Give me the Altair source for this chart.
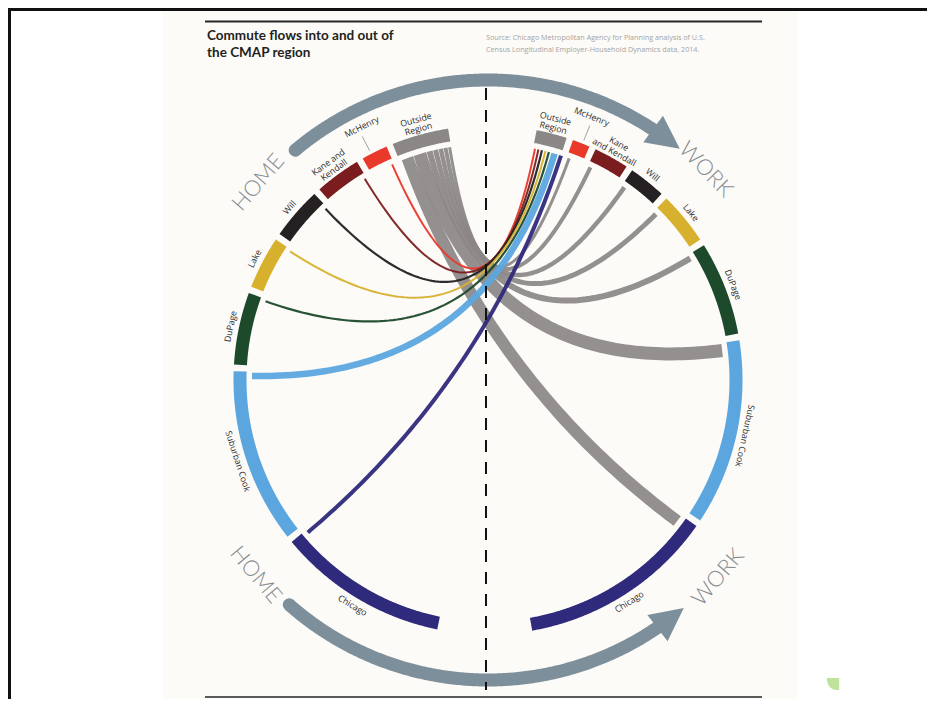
import math
import altair as alt
import pandas as pd

# ---------------- data ----------------
segments = ["Outside Region", "McHenry", "Kane and Kendall", "Will", "Lake",
            "DuPage", "Suburban Cook", "Chicago"]
home_labels = ["Outside\nRegion", "McHenry", "Kane and\nKendall", "Will", "Lake",
               "DuPage", "Suburban Cook", "Chicago"]
work_labels = ["Outside\nRegion", "McHenry", "Kane\nand Kendall", "Will", "Lake",
               "DuPage", "Suburban Cook", "Chicago"]
colors = ["#8c8787", "#e8392b", "#7b1d1f", "#252122", "#d7b12e",
          "#1d4a2b", "#5ba6de", "#2f2a7c"]
# arc length of each segment (degrees) – HOME side (left) and WORK side (right)
home_span = [13.0, 6.0, 10.5, 12.0, 12.0, 16.5, 40.0, 39.0]
work_span = [7.0, 4.0, 8.0, 8.5, 12.0, 21.5, 42.5, 45.0]
# commute flows (ribbon widths, relative units)
# county of residence -> work in Outside Region  (McHenry ... Chicago)
to_outside = [2.0, 2.0, 2.2, 2.0, 2.2, 6.5, 4.0]
# residence in Outside Region -> work in county  (McHenry ... Chicago)
from_outside = [3.0, 4.0, 4.5, 5.0, 6.0, 13.0, 12.0]
leader_labels = ["McHenry"]

big_text = ["HOME", "WORK", "HOME", "WORK"]
title_lines = ["Commute flows into and out of", "the CMAP region"]
source_lines = ["Source: Chicago Metropolitan Agency for Planning analysis of U.S.",
                "Census Longitudinal Employer-Household Dynamics data, 2014."]

# ---------------- layout ----------------
W, H = 919, 691
CX, CY = 488.0, 380.0
R_BAR, BAR_W = 248.0, 13
R_RIB = 236.0
R_LAB = 263.0
R_ARROW = 300.0
GAP = 1.5
HOME_START, WORK_START = -9.0, 11.0
PX = 1.0  # pixels per flow unit
GRAY = "#8c8787"
ARROW_COL = "#7d8f9a"


def pt(phi, r):
    a = math.radians(phi)
    return CX + r * math.sin(a), CY - r * math.cos(a)


def deg(px, r=R_RIB):
    return math.degrees(px / r)


home_rng, a = [], HOME_START
for s in home_span:
    home_rng.append((a, a - s))
    a = a - s - GAP
work_rng, a = [], WORK_START
for s in work_span:
    work_rng.append((a, a + s))
    a = a + s + GAP

# bars
bar_rows = []
for side, rngs in (("home", home_rng), ("work", work_rng)):
    for i, (a0, a1) in enumerate(rngs):
        n = max(10, int(abs(a1 - a0) * 4))
        for k in range(n + 1):
            x, y = pt(a0 + (a1 - a0) * k / n, R_BAR)
            bar_rows.append(dict(id=f"{side}{i}", x=x, y=y, t=k, color=colors[i]))
bars = pd.DataFrame(bar_rows)

# flows (quadratic curves through the circle centre)
flow_rows = []


def add_flow(fid, phi0, phi1, w, color, grp):
    x0, y0 = pt(phi0, R_RIB)
    x2, y2 = pt(phi1, R_RIB)
    n = 80
    for k in range(n + 1):
        t = k / n
        x = (1 - t) ** 2 * x0 + 2 * t * (1 - t) * CX + t * t * x2
        y = (1 - t) ** 2 * y0 + 2 * t * (1 - t) * CY + t * t * y2
        flow_rows.append(dict(id=fid, x=x, y=y, t=k, w=w * PX, color=color, grp=grp))


cur = home_rng[0][0]
for j, v in enumerate(from_outside, start=1):
    w = v * PX
    phi0 = cur - deg(w / 2)
    cur -= deg(w + 0.6)
    phi1 = work_rng[j][0] + deg(w / 2) + deg(1)
    add_flow(f"out{j}", phi0, phi1, v, GRAY, "gray")
cur = work_rng[0][0] + deg(1)
for i, v in enumerate(to_outside, start=1):
    w = v * PX
    phi1 = cur + deg(w / 2)
    cur += deg(w + 1.5)
    phi0 = home_rng[i][0] - deg(w / 2) - deg(1)
    add_flow(f"in{i}", phi0, phi1, v, colors[i], "color")
flows = pd.DataFrame(flow_rows)

# labels
lab_rows, lead_rows = [], []
for side, rngs, labs in (("home", home_rng, home_labels), ("work", work_rng, work_labels)):
    for i, (a0, a1) in enumerate(rngs):
        phi = (a0 + a1) / 2
        txt = labs[i]
        r = R_LAB + (7 if "\n" in txt else 0)
        if segments[i] in leader_labels:
            r = R_LAB + 20
            for k, rr in enumerate((R_BAR + 10, R_BAR + 26)):
                x, y = pt(phi - (0.8 if side == "home" else -0.3), rr)
                lead_rows.append(dict(id=f"{side}{i}", x=x, y=y, t=k))
        flip = (side == "home" and phi < -90) or (side == "work" and phi > 130)
        rot = (phi + 180 if flip else phi) % 360
        x, y = pt(phi, r)
        lab_rows.append(dict(x=x, y=y, label=txt, rot=rot))
labels = pd.DataFrame(lab_rows)
leaders = pd.DataFrame(lead_rows)

big_phi = [-49.3, 46.0, -130.0, 130.6]
big_rows = []
for txt, phi in zip(big_text, big_phi):
    x, y = pt(phi, R_ARROW + 3)
    rot = (phi if abs(phi) < 90 else phi + 180) % 360
    big_rows.append(dict(x=x, y=y, label=txt, rot=rot))
bigs = pd.DataFrame(big_rows)

# arrows
arrow_rows, head_rows = [], []
for aid, (a0, a1, hphi, dirn) in enumerate(((-40.0, 35.0, 36.5, 1), (221.5, 144.0, 142.5, -1))):
    n = 200
    for k in range(n + 1):
        x, y = pt(a0 + (a1 - a0) * k / n, R_ARROW)
        arrow_rows.append(dict(id=aid, x=x, y=y, t=k))
    x, y = pt(hphi, R_ARROW)
    head_rows.append(dict(x=x, y=y, rot=(hphi if dirn > 0 else hphi + 180) % 360))
arrows = pd.DataFrame(arrow_rows)
heads = pd.DataFrame(head_rows)

# ---------------- chart ----------------
xs = alt.Scale(domain=[8, 8 + W], nice=False, zero=False)
ys = alt.Scale(domain=[8, 8 + H], nice=False, zero=False, reverse=True)
X = alt.X("x:Q", scale=xs, axis=None)
Y = alt.Y("y:Q", scale=ys, axis=None)

bg = alt.Chart(pd.DataFrame([dict(x=163, x2=798, y=8, y2=8 + H)])).mark_rect(
    color="#fdfbf8").encode(X, alt.X2("x2:Q"), Y, alt.Y2("y2:Q"))

frame = alt.Chart(pd.DataFrame([
    dict(x=8, x2=8 + W, y=9.5, y2=9.5),
    dict(x=9.5, x2=9.5, y=8, y2=8 + H),
])).mark_rule(color="#111", strokeWidth=3).encode(X, alt.X2("x2:Q"), Y, alt.Y2("y2:Q"))

rules = alt.Chart(pd.DataFrame([
    dict(x=205, x2=762, y=21.5, y2=21.5, w=2.2),
    dict(x=205, x2=762, y=697, y2=697, w=1.6),
])).mark_rule(color="#262626").encode(X, alt.X2("x2:Q"), Y, alt.Y2("y2:Q"),
                                      strokeWidth=alt.StrokeWidth("w:Q", scale=None))

title = alt.Chart(pd.DataFrame([dict(x=207, y=36, label=title_lines[0]),
                                dict(x=207, y=53, label=title_lines[1])])).mark_text(
    align="left", baseline="middle", font="Lato", fontWeight="bold", fontSize=13.5,
    color="#231f20").encode(X, Y, text="label:N")

source = alt.Chart(pd.DataFrame([dict(x=486, y=38, label=source_lines[0]),
                                 dict(x=486, y=50, label=source_lines[1])])).mark_text(
    align="left", baseline="middle", font="Open Sans", fontSize=7.2,
    color="#a3a3a3").encode(X, Y, text="label:N")

arrow_lines = alt.Chart(arrows).mark_line(
    color=ARROW_COL, strokeWidth=13, strokeCap="round").encode(
    X, Y, detail="id:N", order="t:Q")
arrow_heads = alt.Chart(heads).mark_point(
    shape="M -1 -1 L 1 0 L -1 1 Z", size=1100, filled=True, opacity=1,
    color=ARROW_COL, strokeWidth=0).encode(X, Y, angle=alt.Angle("rot:Q", scale=None))

bar_layer = alt.Chart(bars).mark_line(strokeWidth=BAR_W, strokeCap="butt").encode(
    X, Y, detail="id:N", order="t:Q", color=alt.Color("color:N", scale=None))

gray_flows = alt.Chart(flows[flows.grp == "gray"]).mark_line(
    strokeCap="butt", opacity=0.92).encode(
    X, Y, detail="id:N", order="t:Q", color=alt.Color("color:N", scale=None),
    strokeWidth=alt.StrokeWidth("w:Q", scale=None))
color_flows = alt.Chart(flows[flows.grp == "color"]).mark_line(
    strokeCap="butt", opacity=0.95).encode(
    X, Y, detail="id:N", order="t:Q", color=alt.Color("color:N", scale=None),
    strokeWidth=alt.StrokeWidth("w:Q", scale=None))

dash = alt.Chart(pd.DataFrame([dict(x=486, y=88, y2=690)])).mark_rule(
    color="#111", strokeWidth=2, strokeDash=[12, 10]).encode(X, Y, alt.Y2("y2:Q"))

leader_layer = alt.Chart(leaders).mark_line(color="#8a8a8a", strokeWidth=0.8).encode(
    X, Y, detail="id:N", order="t:Q")

label_layer = alt.Chart(labels).mark_text(
    align="center", baseline="middle", font="Open Sans", fontSize=8.8,
    lineBreak="\n", lineHeight=9.5, color="#2b2b2b").encode(
    X, Y, text="label:N", angle=alt.Angle("rot:Q", scale=None))

big_layer = alt.Chart(bigs).mark_text(
    align="center", baseline="middle", font="Lato", fontWeight=300, fontSize=22,
    color="#858c92").encode(X, Y, text="label:N", angle=alt.Angle("rot:Q", scale=None))

green = alt.Chart(pd.DataFrame([dict(x=833, y=684)])).mark_point(
    shape="M -1 -1 L 1 -1 L 1 1 Q -1 1 -1 -1 Z", size=150, filled=True, opacity=1,
    color="#bfe39c", strokeWidth=0).encode(X, Y)

chart = alt.layer(
    bg, frame, rules, title, source, arrow_lines, arrow_heads, bar_layer,
    gray_flows, color_flows, dash, leader_layer, label_layer, big_layer, green
).properties(
    width=W, height=H, padding=0, autosize=alt.AutoSizeParams(type="none")
).configure_view(stroke=None)

chart.save("out.html", embed_options={"renderer": "svg", "actions": False})
